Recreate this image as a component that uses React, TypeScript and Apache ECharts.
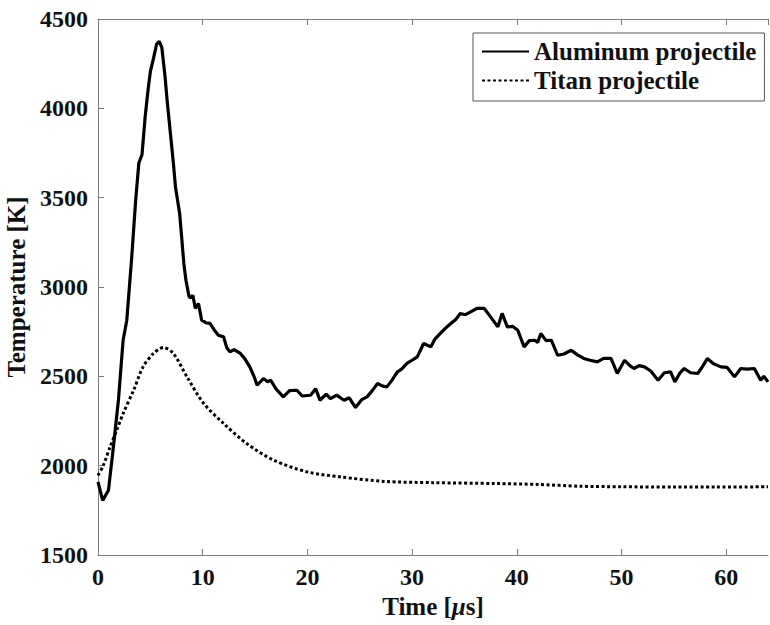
import React, { useEffect, useRef } from "react";
import * as echarts from "echarts";

const alTime = [
  0, 0.45, 1.0, 1.47, 1.95, 2.4, 2.75, 3.2, 3.6, 3.9, 4.2, 4.5, 4.8, 5.0, 5.3, 5.6, 5.85, 6.1, 6.4, 6.6,
  6.9, 7.2, 7.4, 7.8, 8.2, 8.4, 8.7, 8.9, 9.06, 9.3, 9.6, 9.9, 10.3, 10.7, 11.1, 11.5, 12.0, 12.3, 12.6, 13.0,
  13.6, 14.0, 14.5, 14.9, 15.2, 15.8, 16.2, 16.5, 17.0, 17.7, 18.3, 19.0, 19.5, 20.3, 20.8, 21.2, 21.8, 22.2, 22.8, 23.5,
  24.0, 24.6, 25.2, 25.7, 26.2, 26.7, 27.2, 27.6, 28.1, 28.6, 29.0, 29.5, 30.0, 30.5, 31.1, 31.8, 32.2, 32.7, 33.2, 33.7,
  34.2, 34.6, 35.1, 35.6, 36.2, 36.9, 37.5, 38.2, 38.6, 39.1, 39.6, 40.1, 40.7, 41.2, 41.7, 42.0, 42.3, 42.8, 43.3, 43.9,
  44.5, 45.2, 45.8, 46.4, 47.0, 47.7, 48.3, 49.0, 49.6, 50.3, 50.8, 51.2, 51.7, 52.2, 52.8, 53.5, 54.1, 54.7, 55.1, 55.6,
  56.0, 56.6, 57.3, 57.8, 58.2, 58.8, 59.5, 60.1, 60.8, 61.4, 62.0, 62.7, 63.3, 63.6, 64.0,
];
const alTemp = [
  1909, 1806, 1862, 2105, 2366, 2702, 2814, 3150, 3486, 3693, 3740, 3950, 4113, 4205, 4280, 4360, 4375, 4340, 4180, 4046,
  3870, 3693, 3560, 3412, 3132, 3038, 2945, 2940, 2954, 2880, 2908, 2814, 2800, 2796, 2760, 2730, 2721, 2660, 2637, 2650,
  2628, 2600, 2553, 2500, 2450, 2488, 2470, 2478, 2430, 2385, 2420, 2422, 2390, 2394, 2430, 2366, 2400, 2375, 2395, 2366,
  2380, 2325, 2370, 2385, 2420, 2460, 2445, 2441, 2480, 2525, 2540, 2572, 2590, 2609, 2684, 2665, 2710, 2740, 2770, 2796,
  2820, 2852, 2845, 2861, 2880, 2880, 2833, 2777, 2852, 2777, 2780, 2758, 2665, 2700, 2702, 2690, 2740, 2700, 2702, 2618,
  2625, 2646, 2620, 2600, 2590, 2581, 2600, 2600, 2516, 2590, 2560, 2544, 2560, 2553, 2530, 2478, 2520, 2525, 2469, 2520,
  2544, 2520, 2516, 2560, 2600, 2570, 2553, 2550, 2497, 2544, 2540, 2544, 2478, 2500, 2469,
];

const tiTime = [0, 0.5, 1.15, 1.8, 2.4, 3.4, 4.3, 5.3, 6.25, 7.2, 8.5, 10.1, 12.0, 14.2, 16.8, 20.0, 23.2, 27.3, 32, 38, 42, 46, 50, 55, 59, 64];
const tiTemp = [1945, 2000, 2105, 2200, 2292, 2422, 2553, 2628, 2661, 2628, 2497, 2348, 2236, 2124, 2030, 1965, 1937, 1912, 1905, 1900, 1895, 1885, 1882, 1880, 1880, 1882];

const seriesNames = ["Aluminum projectile", "Titan projectile"];
const xLabel = "Time [{i|μ}s]";
const yLabel = "Temperature [K]";

const FONT = "Liberation Serif";

export default function App() {
  const ref = useRef<HTMLDivElement>(null);
  useEffect(() => {
    if (!ref.current) return;
    const chart = echarts.init(ref.current, null, { renderer: "svg" });
    const axisLine = { show: true, lineStyle: { color: "#7a7a7a", width: 1 } };
    const tick = { show: true, inside: true, length: 6, lineStyle: { color: "#7a7a7a" } };
    const txt = { fontFamily: FONT, fontWeight: "bold" as const, color: "#111" };
    chart.setOption({
      animation: false,
      backgroundColor: "#ffffff",
      textStyle: { fontFamily: FONT, fontWeight: "bold", color: "#111" },
      grid: { left: 98, right: 2, top: 19, bottom: 70, containLabel: false, outerBoundsMode: "none" },
      legend: {
        orient: "vertical",
        left: 473,
        top: 33,
        padding: [6, 8, 8, 8],
        itemGap: 4,
        itemWidth: 47,
        itemHeight: 14,
        borderColor: "#555",
        borderWidth: 1,
        backgroundColor: "#fff",
        itemStyle: { opacity: 0 },
        textStyle: { ...txt, fontSize: 25 },
        data: seriesNames,
      },
      xAxis: [
        {
          type: "value",
          min: 0,
          max: 64,
          interval: 10,
          name: xLabel,
          nameLocation: "middle",
          nameGap: 37,
          nameTextStyle: {
            ...txt,
            fontSize: 25,
            rich: { i: { ...txt, fontStyle: "italic", fontSize: 25 } },
          },
          axisLine,
          axisTick: tick,
          splitLine: { show: false },
          axisLabel: {
            ...txt,
            showMaxLabel: false,
            margin: 10,
            fontSize: 24,
            formatter: (v: number) => String(v),
          },
        },
        {
          type: "value",
          position: "top",
          min: 0,
          max: 64,
          interval: 10,
          axisLine,
          axisTick: tick,
          splitLine: { show: false },
          axisLabel: { show: false },
        },
      ],
      yAxis: {
        type: "value",
        min: 1500,
        max: 4500,
        interval: 500,
        name: yLabel,
        nameLocation: "middle",
        nameGap: 59,
        nameTextStyle: { ...txt, fontSize: 25 },
        axisLine,
        axisTick: tick,
        splitLine: { show: false },
        axisLabel: {
          ...txt,
          margin: 10,
          fontSize: 24,
          formatter: (v: number) => String(v),
        },
      },
      series: [
        {
          name: seriesNames[0],
          type: "line",
          data: alTime.map((t, i) => [t, alTemp[i]]),
          symbol: "none",
          lineStyle: { color: "#000", width: 3.2, type: "solid" },
          itemStyle: { color: "#000" },
          clip: true,
        },
        {
          name: seriesNames[1],
          type: "line",
          data: tiTime.map((t, i) => [t, tiTemp[i]]),
          symbol: "none",
          smooth: 0.3,
          lineStyle: { color: "#000", width: 3, type: [3, 2.5] },
          itemStyle: { color: "#000" },
          clip: true,
        },
      ],
    });
    return () => chart.dispose();
  }, []);
  return (
    <div
      ref={ref}
      style={{ position: "fixed", left: 0, top: 0, width: 770, height: 625, background: "#fff" }}
    />
  );
}
